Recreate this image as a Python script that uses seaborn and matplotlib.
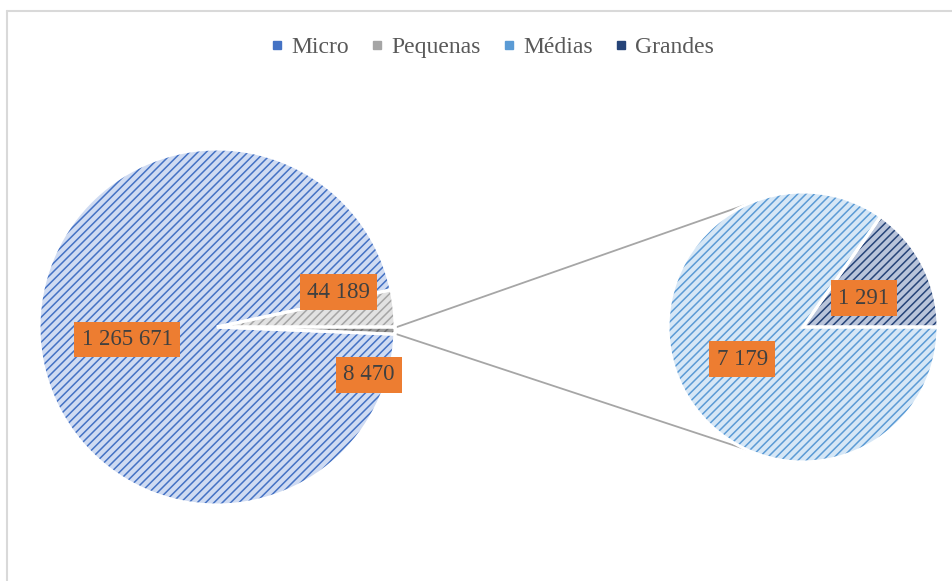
import numpy as np
import matplotlib
matplotlib.use('Agg')
from matplotlib import pyplot as plt
from matplotlib.lines import Line2D
import seaborn as sns

# data
main_labels = ['Outros', 'Pequenas', 'Micro']
main_values = [8470, 44189, 1265671]
sub_labels = ['Grandes', 'Médias']
sub_values = [1291, 7179]
legend_names = ['Micro', 'Pequenas', 'Médias', 'Grandes']

sns.set_theme(style='white')
plt.rcParams['font.family'] = ['Liberation Serif', 'DejaVu Serif']
plt.rcParams['hatch.linewidth'] = 1.1

hatch_col = {'Micro': '#4472c4', 'Pequenas': '#a5a5a5', 'Médias': '#5b9bd5',
             'Grandes': '#264478', 'Outros': '#6f6f6f'}
face_col = {'Micro': '#cfdbf2', 'Pequenas': '#e2e2e2', 'Médias': '#d6e7f6',
            'Grandes': '#b9c4da', 'Outros': '#9a9a9a'}

fig = plt.figure(figsize=(9.53, 5.81), dpi=100)
ax = fig.add_axes([0, 0, 1, 1])

c1, r1 = (217, 254), 178
c2, r2 = (803, 254), 135


def draw_pie(values, names, center, radius, start):
    wedges, _ = ax.pie(values, center=center, radius=radius, startangle=start,
                       counterclock=True, frame=True,
                       colors=[face_col[n] for n in names],
                       wedgeprops=dict(edgecolor='none', linewidth=0, hatch='////'))
    for w, n in zip(wedges, names):
        w.set_edgecolor(hatch_col[n])
        w.set_linewidth(0)
    ax.pie(values, center=center, radius=radius, startangle=start,
           counterclock=True, frame=True, colors=['none'] * len(values),
           wedgeprops=dict(edgecolor='white', linewidth=2.2))
    return wedges


w_main = draw_pie(main_values, main_labels, c1, r1,
                  -360 * main_values[0] / sum(main_values))
w_sub = draw_pie(sub_values, sub_labels, c2, r2, 0)

# connector lines
other = w_main[0]
for a_main, a_sub in [(other.theta2, 115), (other.theta1, 245)]:
    x0 = c1[0] + (r1 + 2) * np.cos(np.radians(a_main))
    y0 = c1[1] + (r1 + 2) * np.sin(np.radians(a_main))
    x1 = c2[0] + r2 * np.cos(np.radians(a_sub))
    y1 = c2[1] + r2 * np.sin(np.radians(a_sub))
    ax.plot([x0, x1], [y0, y1], color='#a6a6a6', lw=1.3, zorder=0)

# data labels (angle, fraction of radius)
box = dict(boxstyle='square,pad=0.32', fc='#ed7d31', ec='none')
label_layout = [
    (main_values[2], c1, r1, 188, 0.51),
    (main_values[1], c1, r1, 16, 0.71),
    (main_values[0], c1, r1, -17.5, 0.895),
    (sub_values[1], c2, r2, 208, 0.51),
    (sub_values[0], c2, r2, 25.4, 0.50),
]
for val, c, r, ang, frac in label_layout:
    x = c[0] + frac * r * np.cos(np.radians(ang))
    y = c[1] + frac * r * np.sin(np.radians(ang))
    ax.text(x, y, f'{val:,}'.replace(',', ' '), ha='center', va='center',
            fontsize=16.5, color='#404040', bbox=box, zorder=5)

ax.set_xlim(0, 953)
ax.set_ylim(0, 581)
ax.set_aspect('equal')
ax.axis('off')

# legend
handles = [Line2D([], [], marker='s', linestyle='none', markersize=5.5,
                  markerfacecolor=hatch_col[n], markeredgecolor=hatch_col[n])
           for n in legend_names]
leg = fig.legend(handles, legend_names, loc='center', bbox_to_anchor=(0.516, 0.919),
                 ncol=4, frameon=False, fontsize=17, handlelength=0.6,
                 handletextpad=0.3, columnspacing=0.9, labelcolor='#595959')

# chart area border
fig.add_artist(Line2D([7 / 953, 1.0], [1 - 10.5 / 581, 1 - 10.5 / 581],
                      transform=fig.transFigure, color='#d9d9d9', lw=1.5))
fig.add_artist(Line2D([7.5 / 953, 7.5 / 953], [0, 1 - 10.5 / 581],
                      transform=fig.transFigure, color='#d9d9d9', lw=1.5))

fig.savefig('out.png', dpi=100, facecolor='white')
